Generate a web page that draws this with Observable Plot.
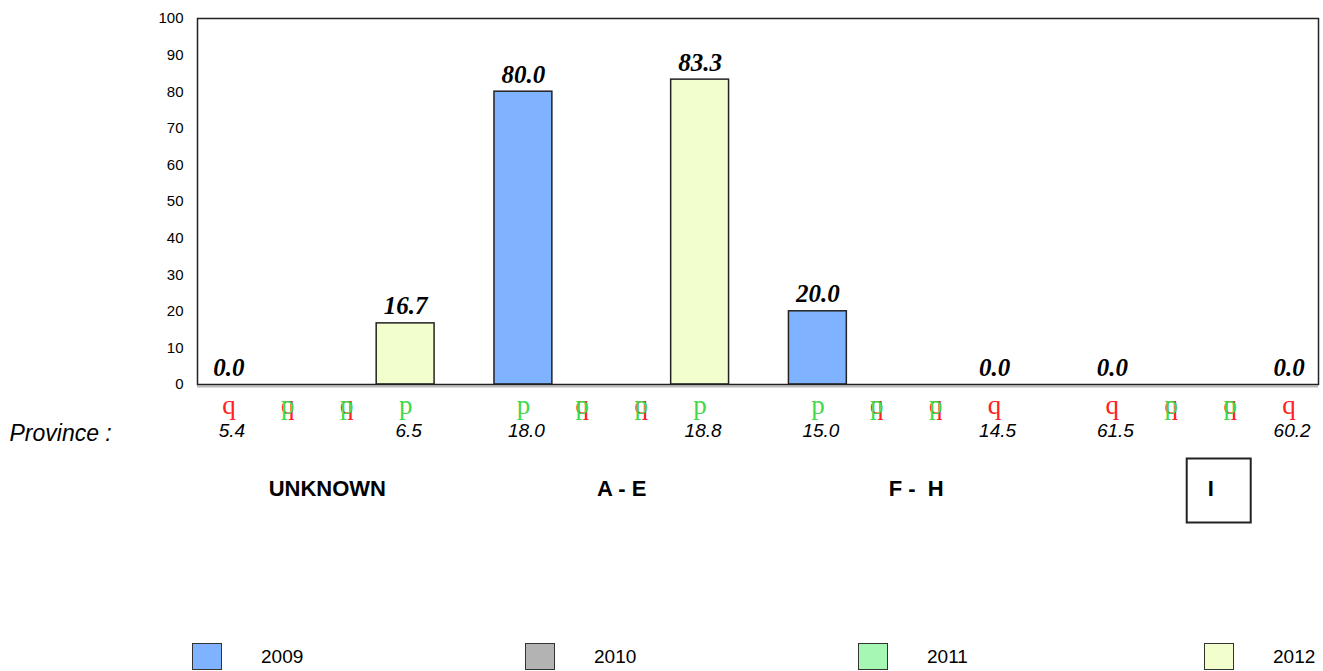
<!DOCTYPE html>
<html>
<head>
<meta charset="utf-8">
<script src="https://cdn.jsdelivr.net/npm/d3@7"></script>
<script src="https://cdn.jsdelivr.net/npm/@observablehq/plot@0.6"></script>
<style>
  html, body { margin: 0; padding: 0; background: #fff; }
  #wrap { position: relative; width: 1323px; height: 671px; overflow: hidden; }
  #chart { position: absolute; left: 0; top: 0; }
  #legend { position: absolute; left: 192px; top: 643px; width: 1131px;
            display: grid; grid-template-columns: 333px 333px 346px 119px;
            font-family: "Liberation Sans", Arial, sans-serif; font-size: 19px; }
  .item { display: flex; align-items: center; }
  .sw { width: 30px; height: 27px; border: 1.5px solid #333; box-sizing: border-box; flex: none; }
  .lab { margin-left: 39px; }
</style>
</head>
<body>
<div id="wrap"><div id="chart"></div><div id="legend"></div></div>
<script>
// ---- data ----
const groups = ["UNKNOWN", "A - E", "F -  H", "I"];
const years = ["2009", "2010", "2011", "2012"];
const yearColors = ["#80b3ff", "#b3b3b3", "#a6f7b3", "#f2ffcc"];
const values2009 = [0.0, 80.0, 20.0, 0.0];
const values2010 = [null, null, null, null];
const values2011 = [null, null, null, null];
const values2012 = [16.7, 83.3, 0.0, 0.0];
const trend2009 = ["down", "up", "up", "down"];
const trend2010 = ["both", "both", "both", "both"];
const trend2011 = ["both", "both", "both", "both"];
const trend2012 = ["up", "up", "down", "down"];
const note2009 = [5.4, 18.0, 15.0, 61.5];
const note2010 = [null, null, null, null];
const note2011 = [null, null, null, null];
const note2012 = [6.5, 18.8, 14.5, 60.2];
const highlighted = ["I"];
const yTicks = [0, 10, 20, 30, 40, 50, 60, 70, 80, 90, 100];

// ---- build table ----
const valuesByYear = [values2009, values2010, values2011, values2012];
const trendByYear = [trend2009, trend2010, trend2011, trend2012];
const noteByYear = [note2009, note2010, note2011, note2012];
const rows = [];
const slots = [];
groups.forEach((g, gi) => {
  if (gi > 0) slots.push("gap" + gi);
  years.forEach((yr, yi) => {
    const slot = g + "|" + yr;
    slots.push(slot);
    rows.push({group: g, year: yr, slot, value: valuesByYear[yi][gi],
               trend: trendByYear[yi][gi], note: noteByYear[yi][gi], color: yearColors[yi]});
  });
});
const groupRows = groups.map(g => ({group: g, slot: g + "|2010"}));

const serif = "'Liberation Serif', 'Times New Roman', serif";
const sans = "'Liberation Sans', Arial, sans-serif";
const step = (1318 - 199) / slots.length;

const chart = Plot.plot({
  width: 1323,
  height: 540,
  marginLeft: 197,
  marginRight: 5,
  marginTop: 18,
  marginBottom: 156,
  style: {background: "transparent", color: "#000"},
  x: {type: "band", domain: slots, range: [199, 1318], padding: 0, round: false, axis: null},
  y: {domain: [0, 100], label: null},
  marks: [
    Plot.axisY({ticks: yTicks, tickSize: 0, tickPadding: 14, fontSize: 15, fontFamily: sans, fill: "#000", label: null}),
    Plot.ruleY([0], {stroke: "#bbb", strokeWidth: 2, dy: 2}),
    Plot.barY(rows.filter(d => d.value > 0), {
      x: "slot", y: "value", fill: "color", stroke: "#222", strokeWidth: 1.5, insetLeft: 0.5, insetRight: 0.5
    }),
    Plot.frame({stroke: "#222", strokeWidth: 1.5}),
    Plot.text(rows.filter(d => d.value != null), {
      x: "slot", y: "value", text: d => d.value.toFixed(1), lineAnchor: "bottom", dy: -9,
      fontFamily: serif, fontSize: 25, fontWeight: "bold", fontStyle: "italic", fill: "#000"
    }),
    // trend arrows (Wingdings-like glyphs)
    Plot.text(rows.filter(d => d.trend === "down" || d.trend === "both"), {
      x: "slot", text: d => "q", frameAnchor: "bottom", dy: 29,
      fontFamily: serif, fontSize: 27, fill: "#ff2020"
    }),
    Plot.text(rows.filter(d => d.trend === "up" || d.trend === "both"), {
      x: "slot", text: d => "p", frameAnchor: "bottom", dy: 29,
      fontFamily: serif, fontSize: 27, fill: "#3fd84a"
    }),
    Plot.text(rows.filter(d => d.note != null), {
      x: "slot", text: d => d.note.toFixed(1), frameAnchor: "bottom", dy: 52, dx: 3,
      fontFamily: sans, fontSize: 19, fontStyle: "italic", fill: "#000"
    }),
    Plot.text(["Province :"], {
      text: d => d, frameAnchor: "bottom-left", dx: -188, dy: 56, textAnchor: "start",
      fontFamily: sans, fontSize: 23, fontStyle: "italic", fill: "#000"
    }),
    Plot.text(groupRows, {
      x: "slot", text: "group", frameAnchor: "bottom", dx: step / 2 + 10, dy: 111,
      fontFamily: sans, fontSize: 22, fontWeight: "bold", fill: "#000"
    }),
    Plot.dot(groupRows.filter(d => highlighted.includes(d.group)), {
      x: "slot", frameAnchor: "bottom", dx: step / 2 + 18, dy: 106, symbol: "square",
      r: 64 / Math.sqrt(Math.PI), stroke: "#222", strokeWidth: 2, fill: "none"
    })
  ]
});
document.getElementById("chart").appendChild(chart);

// legend
const legend = document.getElementById("legend");
years.forEach((yr, i) => {
  const item = document.createElement("div");
  item.className = "item";
  item.innerHTML = `<div class="sw" style="background:${yearColors[i]}"></div><span class="lab">${yr}</span>`;
  legend.appendChild(item);
});
</script>
</body>
</html>
